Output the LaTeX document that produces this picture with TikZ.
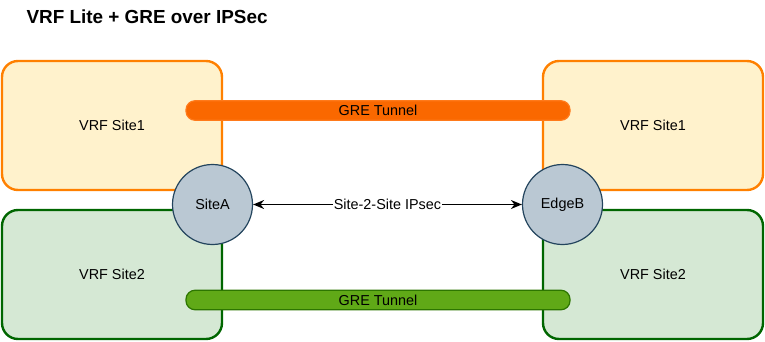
\documentclass[tikz,border=0pt]{standalone}
\usepackage{fontspec}
\setmainfont{Liberation Sans}
\usetikzlibrary{positioning,arrows.meta}

\definecolor{vrforange}{HTML}{FF8000}
\definecolor{vrfcream}{HTML}{FFF2CC}
\definecolor{vrfgreen}{HTML}{006600}
\definecolor{vrfmint}{HTML}{D5E8D4}
\definecolor{tunorange}{HTML}{FA6800}
\definecolor{tunorangeline}{HTML}{FF7A1A}
\definecolor{tungreen}{HTML}{60A917}
\definecolor{tungreenline}{HTML}{2D7600}
\definecolor{edgefill}{HTML}{BAC8D3}
\definecolor{edgeline}{HTML}{23445D}

\begin{document}
\begin{tikzpicture}[x=1pt,y=-1pt,on grid,
   lbl/.style={font=\fontsize{14.4}{17}\selectfont},
   site1/.style={lbl,draw=vrforange,fill=vrfcream,line width=2.4pt,rounded corners=16pt,minimum width=220pt,minimum height=129pt},
   site2/.style={site1,draw=vrfgreen,fill=vrfmint},
   tunnel/.style={lbl,fill=tunorange,draw=tunorangeline,line width=1.2pt,rounded corners=9pt,minimum width=384pt,minimum height=19.5pt,inner sep=0pt},
   gtunnel/.style={tunnel,fill=tungreen,draw=tungreenline},
   router/.style={lbl,circle,fill=edgefill,draw=edgeline,line width=1.2pt,minimum size=80pt,inner sep=0pt}]
   \useasboundingbox (0,0) rectangle (765,342);
   \node[anchor=base west,font=\fontsize{18.9}{22}\selectfont\bfseries] (title) at (23,23.5) {VRF Lite + GRE over IPSec};
   % VRF sites on both ends
   \node[site1] (s1a) at (112,125.5) {VRF Site1};
   \node[site2] (s2a) [below=149pt of s1a] {VRF Site2};
   \node[site1] (s1b) [right=541pt of s1a] {VRF Site1};
   \node[site2] (s2b) [below=149pt of s1b] {VRF Site2};
   % GRE tunnels
   \node[tunnel] (gre1) at (378,110.5) {GRE Tunnel};
   \node[gtunnel] (gre2) at (378,300) {GRE Tunnel};
   % edge routers
   \node[router] (siteA) at (212.5,204.5) {SiteA};
   \node[router] (edgeB) [right=350pt of siteA] {EdgeB};
   \draw[{Stealth[length=11pt,width=9pt]}-{Stealth[length=11pt,width=9pt]},line width=1.4pt] (siteA) -- node[lbl,fill=white,inner sep=1pt] {Site-2-Site IPsec} (edgeB);
\end{tikzpicture}
\end{document}
